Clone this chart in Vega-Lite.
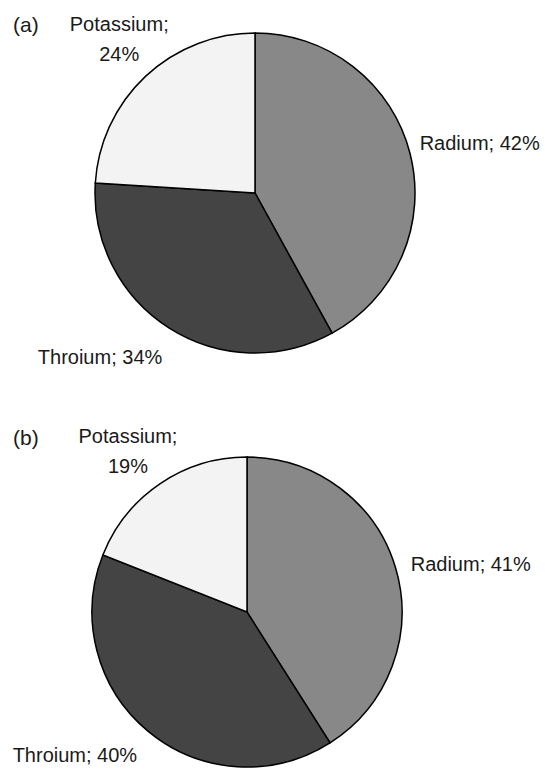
{
  "$schema": "https://vega.github.io/schema/vega-lite/v6.json",
  "padding": 0,
  "background": "white",
  "spacing": 0,
  "bounds": "flush",
  "config": {"view": {"stroke": null}, "font": "Liberation Sans", "text": {"font": "Liberation Sans", "fontSize": 20, "color": "#1a1a1a"}},
  "datasets": {
    "a": [
      {"element": "Radium", "pct": 42, "idx": 1, "label": "Radium; 42%"},
      {"element": "Throium", "pct": 34, "idx": 2, "label": "Throium; 34%"},
      {"element": "Potassium", "pct": 24, "idx": 3, "label": "Potassium; 24%"}
    ],
    "b": [
      {"element": "Radium", "pct": 41, "idx": 1, "label": "Radium; 41%"},
      {"element": "Throium", "pct": 40, "idx": 2, "label": "Throium; 40%"},
      {"element": "Potassium", "pct": 19, "idx": 3, "label": "Potassium; 19%"}
    ]
  },
  "vconcat": [
    {
      "width": 510,
      "height": 386,
      "data": {"name": "a"},
      "title": {"text": "(a)", "anchor": "start", "frame": "group", "orient": "top", "offset": -53, "dx": 13, "baseline": "alphabetic", "fontSize": 21, "font": "Liberation Sans", "fontWeight": "normal", "color": "#1a1a1a"},
      "encoding": {
        "theta": {"field": "pct", "type": "quantitative", "stack": true},
        "order": {"field": "idx", "type": "ordinal"}
      },
      "layer": [
        {
          "mark": {"type": "arc", "outerRadius": 160, "stroke": "#000000", "strokeWidth": 1.5},
          "encoding": {"color": {"field": "element", "type": "nominal", "scale": {"domain": ["Radium", "Throium", "Potassium"], "range": ["#888888", "#444444", "#f3f3f3"]}, "legend": null}}
        },
        {
          "mark": {"type": "text", "radius": 232, "dy": 9, "align": "center", "baseline": "middle"},
          "encoding": {"text": {"condition": {"test": "datum.element === 'Radium'", "field": "label"}, "value": ""}}
        },
        {
          "mark": {"type": "text", "radius": 194, "dx": -51, "dy": 1, "align": "center", "baseline": "middle"},
          "encoding": {"text": {"condition": {"test": "datum.element === 'Throium'", "field": "label"}, "value": ""}}
        },
        {
          "mark": {"type": "text", "radius": 210, "dx": 8, "dy": -15, "align": "center", "baseline": "middle", "lineBreak": " ", "lineHeight": 30},
          "encoding": {"text": {"condition": {"test": "datum.element === 'Potassium'", "field": "label"}, "value": ""}}
        }
      ]
    },
    {
      "width": 494,
      "height": 452,
      "data": {"name": "b"},
      "title": {"text": "(b)", "anchor": "start", "frame": "group", "orient": "top", "offset": -80, "dx": 13, "baseline": "alphabetic", "fontSize": 21, "font": "Liberation Sans", "fontWeight": "normal", "color": "#1a1a1a"},
      "encoding": {
        "theta": {"field": "pct", "type": "quantitative", "stack": true},
        "order": {"field": "idx", "type": "ordinal"}
      },
      "layer": [
        {
          "mark": {"type": "arc", "outerRadius": 155, "stroke": "#000000", "strokeWidth": 1.5},
          "encoding": {"color": {"field": "element", "type": "nominal", "scale": {"domain": ["Radium", "Throium", "Potassium"], "range": ["#888888", "#444444", "#f3f3f3"]}, "legend": null}}
        },
        {
          "mark": {"type": "text", "radius": 233, "dy": 18, "align": "center", "baseline": "middle"},
          "encoding": {"text": {"condition": {"test": "datum.element === 'Radium'", "field": "label"}, "value": ""}}
        },
        {
          "mark": {"type": "text", "radius": 190, "dx": -51, "dy": -2, "align": "center", "baseline": "middle"},
          "encoding": {"text": {"condition": {"test": "datum.element === 'Throium'", "field": "label"}, "value": ""}}
        },
        {
          "mark": {"type": "text", "radius": 194, "dx": -10, "dy": -15, "align": "center", "baseline": "middle", "lineBreak": " ", "lineHeight": 30},
          "encoding": {"text": {"condition": {"test": "datum.element === 'Potassium'", "field": "label"}, "value": ""}}
        }
      ]
    }
  ]
}
